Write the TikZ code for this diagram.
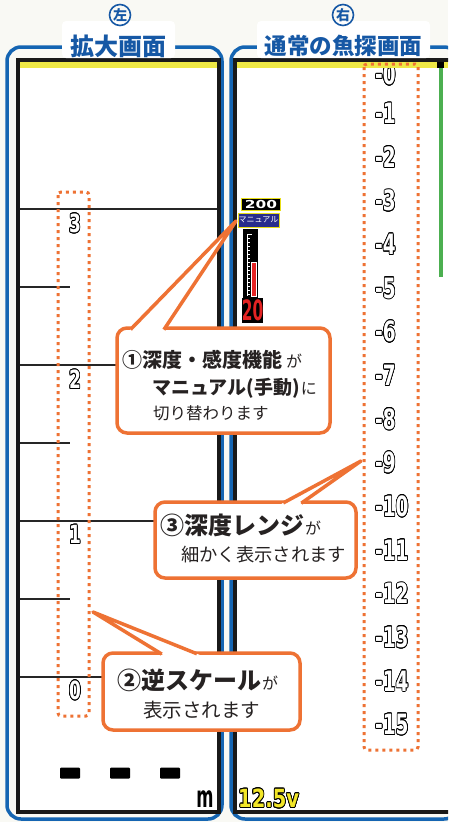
\documentclass[tikz,border=0pt]{standalone}
\usepackage{fontspec}
\setmainfont{Noto Sans CJK JP}
\newfontfamily\dv{DejaVu Sans}
\usepackage{contour}
\contourlength{1pt}
\contournumber{16}
\usetikzlibrary{calc}
\definecolor{bgc}{RGB}{249,249,244}
\definecolor{fblue}{RGB}{21,101,178}
\definecolor{hblue}{RGB}{22,88,165}
\definecolor{corange}{RGB}{238,114,52}
\definecolor{ink}{RGB}{38,34,34}
\definecolor{lyel}{RGB}{238,232,70}
\definecolor{gbar}{RGB}{76,175,80}
\definecolor{navy}{RGB}{40,44,140}
\definecolor{mred}{RGB}{228,35,35}
\definecolor{yfill}{RGB}{242,230,40}
\newcommand\odig[3]{\scalebox{#1}[1]{{\color{#2}\contour{black}{#3}}}}
\begin{document}
\begin{tikzpicture}[x=1pt,y=-1pt,
  bframe/.style={draw=fblue,line width=3.5pt,rounded corners=14pt},
  screen/.style={draw=black!90,line width=3.5pt,fill=white},
  scl/.style={draw=black!85,line width=1.3pt},
  dotbox/.style={draw=corange,line width=3pt,dash pattern=on 3pt off 4pt,rounded corners=3pt},
  ldig/.style={inner sep=0pt,font={\dv\bfseries\fontsize{25}{25}\selectfont}},
  rlab/.style={inner sep=0pt,anchor=west,font={\dv\bfseries\fontsize{28}{28}\selectfont}},
  hbox/.style={fill=white,rounded corners=4pt,inner sep=0pt,minimum height=37pt},
  htext/.style={inner sep=0pt,text=hblue,font=\bfseries},
  hcirc/.style={circle,draw=hblue,line width=1.6pt,inner sep=0pt,minimum size=21pt,text=hblue,font={\bfseries\fontsize{14}{14}\selectfont}},
  cbox/.style={draw=corange,line width=3.5pt,fill=white,rounded corners=10pt,inner sep=0pt},
  cline/.style={draw=corange,line width=3.5pt,line join=round},
  ctext/.style={inner sep=0pt,anchor=west,text=ink},
  dashbar/.style={fill=black,rounded corners=1pt,inner sep=0pt,minimum width=20pt,minimum height=11pt}
]
\useasboundingbox (0,0) rectangle (448,822);
\fill[bgc] (0,0) rectangle (448,822);
\clip (0,0) rectangle (448,822);

% frames and screens
\draw[bframe] (7,47) rectangle (222,819);
\draw[bframe] (231,47) rectangle (458,819);
\draw[screen] (18,60) rectangle (219,812);
\draw[screen] (235,60) rectangle (454,812);

% left scale
\foreach \yy in {209,365,521,677} \draw[scl] (20,\yy) -- (217,\yy);
\foreach \yy in {287,443,599} \draw[scl] (20,\yy) -- (70,\yy);
\node[ldig] (l3) at (75,224) {\odig{0.68}{white}{3}};
\node[ldig] (l2) at (75,380) {\odig{0.68}{white}{2}};
\node[ldig] (l1) at (75,535) {\odig{0.68}{white}{1}};
\node[ldig] (l0) at (75,691) {\odig{0.68}{white}{0}};

% right scale
\node[rlab] (r0) at (375,75) {\odig{0.66}{white}{-0}};
\foreach \k in {1,...,15} {
  \node[rlab] (r\k) at (375,{114+43.64*(\k-1)}) {\odig{0.66}{white}{-\k}};
}

% yellow bands, green bar
\fill[lyel] (20,62) rectangle (217,68);
\fill[lyel] (237,62) rectangle (448,68);
\fill[black] (437,62) rectangle (444,68);
\fill[gbar] (439,68) rectangle (443,277);

% dotted boxes
\draw[dotbox] (58,192) rectangle (89,716);
\draw[dotbox] (364,64) rectangle (418,750);

% meter
\node[fill=black,draw=yellow!90!black,line width=1pt,minimum width=39pt,minimum height=12pt,inner sep=0pt,text=white,font={\dv\bfseries\fontsize{11}{11}\selectfont}] (m200) at (261,204) {\scalebox{1.4}[1]{200}};
\node[fill=navy,draw=yellow!90!black,line width=1pt,minimum width=41pt,minimum height=14pt,inner sep=0pt,text=white,font={\fontsize{8}{8}\selectfont}] (mman) at (258.5,220) {マニュアル};
\fill[black] (243,229) rectangle (258,299);
\draw[white,line width=0.9pt] (252,234) -- (247,234) -- (247,296);
\foreach \yy in {238,242,...,294} \draw[white,line width=0.5pt] (247,\yy) -- (249.5,\yy);
\fill[mred] (251,262) rectangle (256,296);
\draw[white,line width=0.5pt] (251,262) rectangle (256,296);
\node[fill=black,minimum width=21pt,minimum height=25pt,inner sep=0pt,font={\dv\bfseries\fontsize{28}{28}\selectfont}] (m20) at (252.5,310.5) {\scalebox{0.55}[1]{\textcolor{mred}{20}}};

% headers
\node[hbox,minimum width=113pt] (hlb) at (118.5,39.5) {};
\node[htext,font={\bfseries\fontsize{24}{24}\selectfont}] (hl) at (118.5,46) {拡大画面};
\node[hcirc] (cl) at (120,15) {左};
\node[hbox,minimum width=173pt] (hrb) at (343.5,39.5) {};
\node[htext,font={\bfseries\fontsize{22.5}{22.5}\selectfont}] (hr) at (343.5,46) {通常の魚探画面};
\node[hcirc] (cr) at (343,15) {右};

% callout 1
\node[cbox,minimum width=213pt,minimum height=105pt] (c1) at (223.5,380.5) {};
\coordinate (t1) at (236,221);
\coordinate (a1) at (132,328);
\coordinate (b1) at (165,328);
\fill[white] (t1) -- ($(a1)!-5pt!(t1)$) -- ($(b1)!-5pt!(t1)$) -- cycle;
\draw[cline] ($(a1)!-2pt!(t1)$) -- (t1) -- ($(b1)!-2pt!(t1)$);
\node[ctext] (c1a) at (122,360) {\bfseries\fontsize{20}{20}\selectfont ①深度・感度機能\fontsize{16}{16}\selectfont\mdseries\hspace{4pt}が};
\node[ctext] (c1b) at (152,388) {\bfseries\fontsize{19}{19}\selectfont マニュアル(手動)\fontsize{16}{16}\selectfont\mdseries\hspace{1pt}に};
\node[ctext] (c1c) at (153,413) {\fontsize{16.5}{16.5}\selectfont 切り替わります};

% callout 3
\node[cbox,minimum width=201pt,minimum height=76pt] (c3) at (255.5,540) {};
\coordinate (t3) at (361,461);
\coordinate (a3) at (285,502);
\coordinate (b3) at (303,502);
\fill[white] (t3) -- ($(a3)!-5pt!(t3)$) -- ($(b3)!-5pt!(t3)$) -- cycle;
\draw[cline] ($(a3)!-2pt!(t3)$) -- (t3) -- ($(b3)!-2pt!(t3)$);
\node[ctext] (c3a) at (160,525) {\bfseries\fontsize{24}{24}\selectfont ③深度レンジ\fontsize{16}{16}\selectfont\mdseries\hspace{1pt}が};
\node[ctext] (c3b) at (181,555) {\fontsize{18.3}{18.3}\selectfont 細かく表示されます};

% callout 2
\node[cbox,minimum width=197pt,minimum height=77pt] (c2) at (201.5,691.5) {};
\coordinate (t2) at (93,612);
\coordinate (a2) at (160,653);
\coordinate (b2) at (195,653);
\fill[white] (t2) -- ($(a2)!-5pt!(t2)$) -- ($(b2)!-5pt!(t2)$) -- cycle;
\draw[cline] ($(a2)!-2pt!(t2)$) -- (t2) -- ($(b2)!-2pt!(t2)$);
\node[ctext] (c2a) at (117,680) {\bfseries\fontsize{24}{24}\selectfont ②逆スケール\fontsize{16}{16}\selectfont\mdseries\hspace{1pt}が};
\node[ctext] (c2b) at (143,710) {\fontsize{19.5}{19.5}\selectfont 表示されます};

% bottom
\node[dashbar] (d1) at (70,773) {};
\node[dashbar] (d2) at (120,773) {};
\node[dashbar] (d3) at (170,773) {};
\node[inner sep=0pt,font={\dv\bfseries\fontsize{30}{30}\selectfont}] (mu) at (205,800) {\scalebox{0.55}[1]{{\color{black}\contour{white}{m}}}};
\node[inner sep=0pt,anchor=west,font={\dv\bfseries\fontsize{25}{25}\selectfont}] (volt) at (238,799) {\odig{0.78}{yfill}{12.5v}};
\end{tikzpicture}
\end{document}
